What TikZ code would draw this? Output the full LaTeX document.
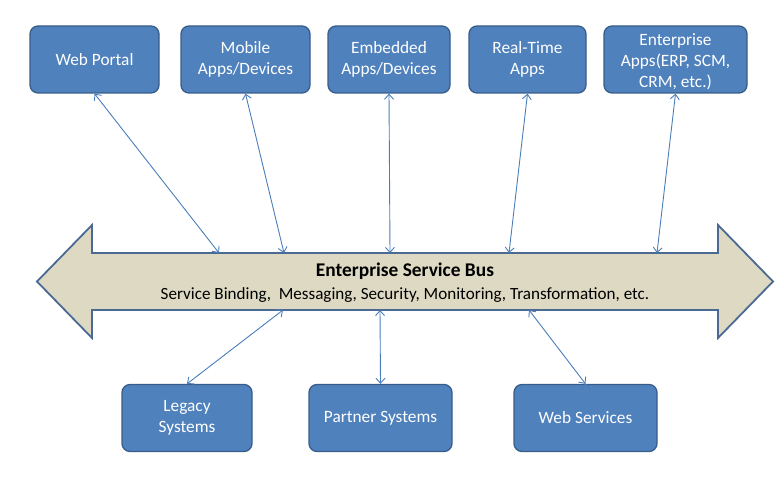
\documentclass[tikz,border=0pt]{standalone}
\usepackage{fontspec}
\setmainfont{Carlito}
\usepackage{tikz}
\usetikzlibrary{arrows.meta,positioning}
\definecolor{boxblue}{HTML}{4F81BD}
\definecolor{boxedge}{HTML}{385D8A}
\definecolor{busfill}{HTML}{DDD9C3}
\definecolor{busedge}{HTML}{4A6A94}
\definecolor{linkblue}{HTML}{4A7EBB}

\begin{document}
\begin{tikzpicture}[x=1pt,y=-1pt,on grid,>={Straight Barb[length=5pt,width=9pt]},
   sys/.style={rectangle,rounded corners=8pt,draw=boxedge,line width=1.3pt,
     fill=boxblue,text=white,align=center,inner sep=0pt,minimum height=67pt,
     font=\fontsize{17.3}{21}\selectfont},
   bus/.style={draw=busedge,line width=1.8pt,fill=busfill,line join=miter},
   link/.style={<->,draw=linkblue,line width=0.9pt}]
   \useasboundingbox (0,0) rectangle (784,481);

   % applications on top
   \node[sys,minimum width=129pt] (web) at (94.5,59.5) {Web Portal};
   \node[sys,minimum width=129pt] (mob) [right=151pt of web] {Mobile\\Apps/Devices};
   \node[sys,minimum width=122pt] (emb) [right=143.5pt of mob] {Embedded\\Apps/Devices};
   \node[sys,minimum width=117pt] (rt) [right=138.5pt of emb] {Real-Time\\Apps};
   \node[sys,minimum width=143pt] (erp) [right=148pt of rt] {\rule{0pt}{16pt}Enterprise\\Apps(ERP, SCM,\\CRM, etc.)};

   % the bus
   \draw[bus] (37,281.5) -- (92,225) -- (92,253) -- (718,253) -- (718,225)
      -- (773,281.5) -- (718,338) -- (718,310) -- (92,310) -- (92,338) -- cycle;
   \node[font=\fontsize{19.4}{24}\selectfont\bfseries] (esb) at (405,271) {Enterprise Service Bus};
   \node[font=\fontsize{17.1}{21}\selectfont] (svc) [below=24pt of esb]
      {Service Binding,\ \ Messaging, Security, Monitoring, Transformation, etc.};

   % systems below
   \node[sys,minimum width=130pt] (leg) at (187,418) {Legacy\\Systems};
   \node[sys,minimum width=143pt] (prt) [right=193.5pt of leg] {Partner Systems};
   \node[sys,minimum width=143pt] (ws) [right=205pt of prt] {Web Services};

   % ends on the bus
   \coordinate (b1) at (219,253);
   \coordinate (b2) at (284,253);
   \coordinate (b3) at (390,253);
   \coordinate (b4) at (509,253);
   \coordinate (b5) at (657,253);
   \coordinate (c1) at (283,310);
   \coordinate (c2) at (380,310);
   \coordinate (c3) at (529,310);

   \path[link]
    (web.south) edge (b1)
    (mob.south) edge (b2)
    (emb.south) edge (b3)
    (rt.south)  edge (b4)
    (erp.south) edge (b5)
    (leg.north) edge (c1)
    (prt.north) edge (c2)
    (ws.north)  edge (c3);
\end{tikzpicture}
\end{document}
